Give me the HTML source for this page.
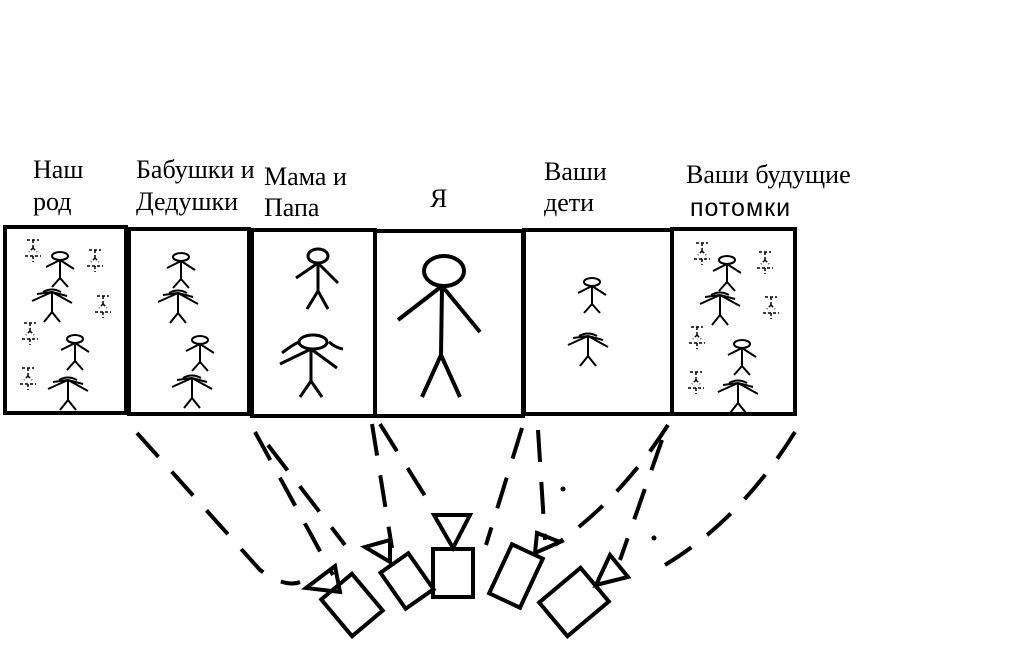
<!DOCTYPE html>
<html><head><meta charset="utf-8"><style>
html,body{margin:0;padding:0;background:#fff;}
svg{display:block}
text{font-family:"Liberation Serif",serif;font-size:26px;fill:#000}
</style></head><body>
<svg width="1018" height="658" viewBox="0 0 1018 658" xmlns="http://www.w3.org/2000/svg">
<defs>
<g id="sf" stroke="#000" stroke-width="2" fill="none">
<ellipse cx="0" cy="0" rx="8" ry="4"/>
<line x1="0" y1="4" x2="0" y2="22"/>
<line x1="-14" y1="11" x2="0" y2="4"/><line x1="14" y1="13" x2="0" y2="4"/>
<line x1="0" y1="22" x2="-8" y2="31"/><line x1="0" y1="22" x2="8" y2="31"/>
</g>
<g id="sfw" stroke="#000" stroke-width="2" fill="none">
<path d="M-9 0 Q0 -5 9 0"/>
<line x1="0" y1="0" x2="0" y2="20"/>
<line x1="-20" y1="9" x2="0" y2="0"/><line x1="20" y1="11" x2="0" y2="0"/>
<line x1="-15" y1="2" x2="0" y2="0"/><line x1="15" y1="4" x2="0" y2="0"/>
<line x1="0" y1="20" x2="-8" y2="30"/><line x1="0" y1="20" x2="8" y2="30"/>
</g>
<g id="tiny" stroke="#000" stroke-width="1.5" fill="none" stroke-dasharray="3 2">
<line x1="-6" y1="0" x2="6" y2="0"/><line x1="0" y1="0" x2="0" y2="8"/>
<line x1="0" y1="8" x2="-4" y2="12"/><line x1="0" y1="8" x2="4" y2="12"/>
<line x1="-8" y1="16" x2="8" y2="16"/><line x1="0" y1="16" x2="0" y2="22"/>
</g>
</defs>

<text x="33" y="178">Наш</text><text x="33" y="210">род</text>
<text x="136" y="178">Бабушки и</text><text x="136" y="210">Дедушки</text>
<text x="264" y="185">Мама и</text><text x="264" y="216">Папа</text>
<text x="430" y="207">Я</text>
<text x="544" y="180">Ваши</text><text x="544" y="211">дети</text>
<text x="686" y="183">Ваши будущие</text>
<text x="690" y="216" style="font-family:'Liberation Sans',sans-serif;font-size:25px;letter-spacing:1px">потомки</text>

<g stroke="#000" stroke-width="4" fill="none">
<rect x="5" y="227" width="121" height="186"/>
<rect x="129" y="229" width="120" height="185"/>
<rect x="252" y="230" width="123" height="186"/>
<rect x="375" y="231" width="148" height="185"/>
<rect x="524" y="230" width="148" height="184"/>
<rect x="672" y="229" width="123" height="185"/>
</g>

<use href="#tiny" x="33" y="240"/><use href="#sf" x="60" y="256"/><use href="#tiny" x="95" y="250"/>
<use href="#sfw" x="52" y="292"/><use href="#tiny" x="103" y="296"/><use href="#tiny" x="30" y="323"/>
<use href="#sf" x="75" y="339"/><use href="#tiny" x="28" y="368"/><use href="#sfw" x="68" y="380"/>
<use href="#sf" x="181" y="257"/><use href="#sfw" x="178" y="293"/>
<use href="#sf" x="200" y="340"/><use href="#sfw" x="192" y="378"/>
<g stroke="#000" stroke-width="3" fill="none">
<ellipse cx="318" cy="256" rx="10" ry="7"/>
<line x1="318" y1="263" x2="318" y2="291"/><line x1="296" y1="278" x2="318" y2="263"/><line x1="338" y1="283" x2="318" y2="263"/>
<line x1="318" y1="291" x2="307" y2="309"/><line x1="318" y1="291" x2="328" y2="309"/>
<ellipse cx="313" cy="342" rx="14" ry="7"/>
<line x1="311" y1="349" x2="311" y2="381"/><line x1="280" y1="364" x2="311" y2="349"/><line x1="337" y1="368" x2="311" y2="349"/>
<path d="M282 353 Q292 345 299 342"/><path d="M329 342 Q336 348 343 349"/>
<line x1="311" y1="381" x2="300" y2="397"/><line x1="311" y1="381" x2="322" y2="397"/>
</g>
<g stroke="#000" stroke-width="4" fill="none">
<ellipse cx="444" cy="271" rx="20" ry="15"/>
<line x1="442" y1="286" x2="441" y2="355"/><line x1="398" y1="320" x2="442" y2="286"/><line x1="480" y1="332" x2="442" y2="286"/>
<line x1="441" y1="355" x2="422" y2="397"/><line x1="441" y1="355" x2="460" y2="397"/>
</g>
<use href="#sf" x="592" y="282"/><use href="#sfw" x="588" y="336"/>
<use href="#tiny" x="702" y="243"/><use href="#sf" x="727" y="260"/><use href="#tiny" x="765" y="252"/>
<use href="#sfw" x="720" y="295"/><use href="#tiny" x="771" y="297"/><use href="#tiny" x="697" y="327"/>
<use href="#sf" x="742" y="344"/><use href="#tiny" x="696" y="372"/><use href="#sfw" x="738" y="383"/>

<g stroke="#000" stroke-width="4" fill="none" stroke-dasharray="32 20" stroke-linecap="butt">
<path d="M137 433 L260 570 Q285 588 300 582"/>
<path d="M255 432 L333 575"/>
<path d="M268 445 L345 545"/>
<path d="M372 424 L392 548"/>
<path d="M380 424 L435 512"/>
<path d="M522 428 L486 545"/>
<path d="M538 430 L545 540"/>
<path d="M668 425 Q620 500 555 545"/>
<path d="M662 440 L620 560"/>
<path d="M795 432 Q740 520 665 565"/>
</g>
<circle cx="563" cy="489" r="2.5"/><circle cx="654" cy="538" r="2.5"/>

<g stroke="#000" stroke-width="4" fill="none">
<rect x="433" y="549" width="40" height="48"/>
<polygon points="434,515 470,515 453,548"/>
<rect x="-20" y="-24" width="40" height="48" transform="translate(352,605) rotate(-40)"/>
<polygon points="306,588 335,566 340,592"/>
<rect x="-17" y="-22" width="34" height="44" transform="translate(407,581) rotate(-35)"/>
<polygon points="365,547 390,540 390,562"/>
<rect x="-17" y="-27" width="34" height="54" transform="translate(516,576) rotate(25)"/>
<polygon points="537,533 560,542 535,553"/>
<rect x="-22" y="-27" width="44" height="54" transform="translate(574,602) rotate(50)"/>
<polygon points="596,585 610,555 628,577"/>
</g>
</svg>
</body></html>
